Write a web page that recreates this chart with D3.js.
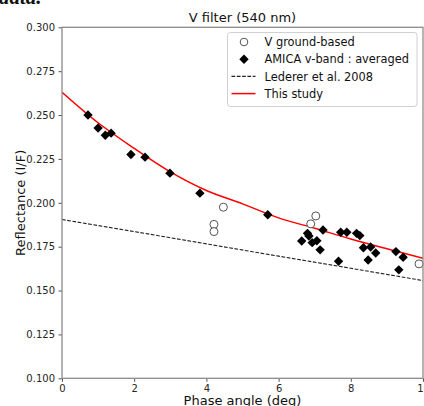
<!DOCTYPE html>
<html>
<head>
<meta charset="utf-8">
<script src="https://cdn.jsdelivr.net/npm/d3@7"></script>
<style>
  body { margin: 0; background: #fff; }
  svg { display: block; font-family: "DejaVu Sans", sans-serif; }
  .tick text { fill: #262626; font-size: 10px; }
  .tick line { stroke: #555; }
</style>
</head>
<body>
<div id="chart"></div>
<script>
// AMICA v-band averaged points [phase angle, reflectance]
const amicaX = [0.72, 1.0, 1.2, 1.36, 1.91, 2.3, 2.99, 3.82, 5.7, 6.64, 6.80, 6.84, 6.93, 7.06, 7.15, 7.23,
  7.66, 7.72, 7.89, 8.16, 8.25, 8.35, 8.55, 8.48, 8.69, 9.25, 9.33, 9.45];
const amicaY = [0.2500, 0.2426, 0.2385, 0.2397, 0.2275, 0.2260, 0.2169, 0.2055, 0.1932, 0.1782, 0.1826, 0.1811,
  0.1773, 0.1784, 0.1732, 0.1845, 0.1667, 0.1832, 0.1832, 0.1826, 0.1813, 0.1744, 0.1748, 0.1674, 0.1714,
  0.1722, 0.1618, 0.1690];

// V ground-based
const groundX = [4.21, 4.21, 4.47, 6.89, 7.03, 9.89];
const groundY = [0.1877, 0.1836, 0.1975, 0.1880, 0.1925, 0.1652];

// Lederer et al. 2008
const ledererX = [0, 2, 4, 6, 8, 10];
const ledererY = [0.1905, 0.1836, 0.1766, 0.1696, 0.1627, 0.1557];

// This study
const studyX = [0, 1, 2, 3, 4, 5, 6, 7, 8, 9, 10];
const studyY = [0.2630, 0.2456, 0.2310, 0.2176, 0.2070, 0.1994, 0.1914, 0.1855, 0.1794, 0.1738, 0.1684];

const xTicks = [0, 2, 4, 6, 8, 10];
const yTicks = [0.100, 0.125, 0.150, 0.175, 0.200, 0.225, 0.250, 0.275, 0.300];

const W = 424, H = 406;
const margin = {left: 62, right: 423, top: 27.3, bottom: 378.3};

const svg = d3.select('#chart').append('svg')
    .attr('width', W)
    .attr('height', H);

// cropped caption text from the page above the figure
svg.append('text')
    .attr('x', -1)
    .attr('y', 4)
    .attr('font-family', '"Liberation Serif", serif')
    .attr('font-style', 'italic')
    .attr('font-weight', 'bold')
    .attr('font-size', 21)
    .attr('fill', '#111')
    .text('data.');

const x = d3.scaleLinear().domain([0, 10]).range([margin.left, margin.right]);
const y = d3.scaleLinear().domain([0.1, 0.3]).range([margin.bottom, margin.top]);
const pw = margin.right - margin.left, ph = margin.bottom - margin.top;

svg.append('defs').append('clipPath').attr('id', 'clip')
  .append('rect')
    .attr('x', margin.left).attr('y', margin.top)
    .attr('width', pw).attr('height', ph);

// axes
const xAxis = svg.append('g')
    .attr('transform', `translate(0,${margin.bottom})`)
    .call(d3.axisBottom(x).tickValues(xTicks).tickSize(3.5).tickPadding(3.5).tickFormat(d3.format('d')));
const yAxis = svg.append('g')
    .attr('transform', `translate(${margin.left},0)`)
    .call(d3.axisLeft(y).tickValues(yTicks).tickSize(3.5).tickPadding(3.5).tickFormat(d3.format('.3f')));
xAxis.select('.domain').remove();
yAxis.select('.domain').remove();
svg.selectAll('.tick text').attr('font-family', '"DejaVu Sans", sans-serif');

const plot = svg.append('g').attr('clip-path', 'url(#clip)');

const line = d3.line()
    .x(d => x(d[0]))
    .y(d => y(d[1]));

plot.append('path')
    .datum(ledererX.map((v, i) => [v, ledererY[i]]))
    .attr('d', line)
    .attr('fill', 'none')
    .attr('stroke', '#222')
    .attr('stroke-width', 1.1)
    .attr('stroke-dasharray', '3.7,1.6');

plot.append('path')
    .datum(studyX.map((v, i) => [v, studyY[i]]))
    .attr('d', line.curve(d3.curveMonotoneX))
    .attr('fill', 'none')
    .attr('stroke', '#ff0000')
    .attr('stroke-width', 1.5);

const diamond = d3.symbol().type(d3.symbolSquare).size(44);

svg.append('g').selectAll('path')
    .data(amicaX.map((v, i) => [v, amicaY[i]]))
  .join('path')
    .attr('d', diamond)
    .attr('transform', d => `translate(${x(d[0])},${y(d[1])}) rotate(45)`)
    .attr('fill', '#000');

svg.append('g').selectAll('circle')
    .data(groundX.map((v, i) => [v, groundY[i]]))
  .join('circle')
    .attr('cx', d => x(d[0]))
    .attr('cy', d => y(d[1]))
    .attr('r', 4)
    .attr('fill', '#fff')
    .attr('stroke', '#555')
    .attr('stroke-width', 1);

// frame
svg.append('rect')
    .attr('x', margin.left).attr('y', margin.top)
    .attr('width', pw).attr('height', ph)
    .attr('fill', 'none')
    .attr('stroke', '#8c8c8c')
    .attr('stroke-width', 1.3);

// title and labels
svg.append('text')
    .attr('x', (margin.left + margin.right) / 2)
    .attr('y', 22)
    .attr('text-anchor', 'middle')
    .attr('font-size', 13)
    .attr('fill', '#111')
    .text('V filter (540 nm)');

svg.append('text')
    .attr('x', (margin.left + margin.right) / 2)
    .attr('y', 405)
    .attr('text-anchor', 'middle')
    .attr('font-size', 13)
    .attr('fill', '#111')
    .text('Phase angle (deg)');

svg.append('text')
    .attr('transform', `translate(25,${(margin.top + margin.bottom) / 2}) rotate(-90)`)
    .attr('text-anchor', 'middle')
    .attr('font-size', 13)
    .attr('fill', '#111')
    .text('Reflectance (I/F)');

// legend
const legend = svg.append('g').attr('transform', 'translate(227.5,32.5)');
legend.append('rect')
    .attr('width', 189.5).attr('height', 74)
    .attr('rx', 3)
    .attr('fill', '#fff').attr('fill-opacity', 0.8)
    .attr('stroke', '#d0d0d0');

const legendItems = ['V ground-based', 'AMICA v-band : averaged', 'Lederer et al. 2008', 'This study'];
legendItems.forEach((label, i) => {
  const cy = 9.5 + i * 17.2;
  const g = legend.append('g').attr('transform', `translate(0,${cy})`);
  if (i === 0) {
    g.append('circle').attr('cx', 16.5).attr('r', 3.8)
        .attr('fill', '#fff').attr('stroke', '#555');
  } else if (i === 1) {
    g.append('path').attr('d', diamond)
        .attr('transform', 'translate(16.5,0) rotate(45)').attr('fill', '#000');
  } else if (i === 2) {
    g.append('line').attr('x1', 4).attr('x2', 28)
        .attr('stroke', '#222').attr('stroke-width', 1.1).attr('stroke-dasharray', '3.7,1.6');
  } else {
    g.append('line').attr('x1', 4).attr('x2', 28)
        .attr('stroke', '#ff0000').attr('stroke-width', 1.5);
  }
  g.append('text')
      .attr('x', 37)
      .attr('dy', '0.36em')
      .attr('font-size', 11.4)
      .attr('fill', '#111')
      .text(label);
});
</script>
</body>
</html>
